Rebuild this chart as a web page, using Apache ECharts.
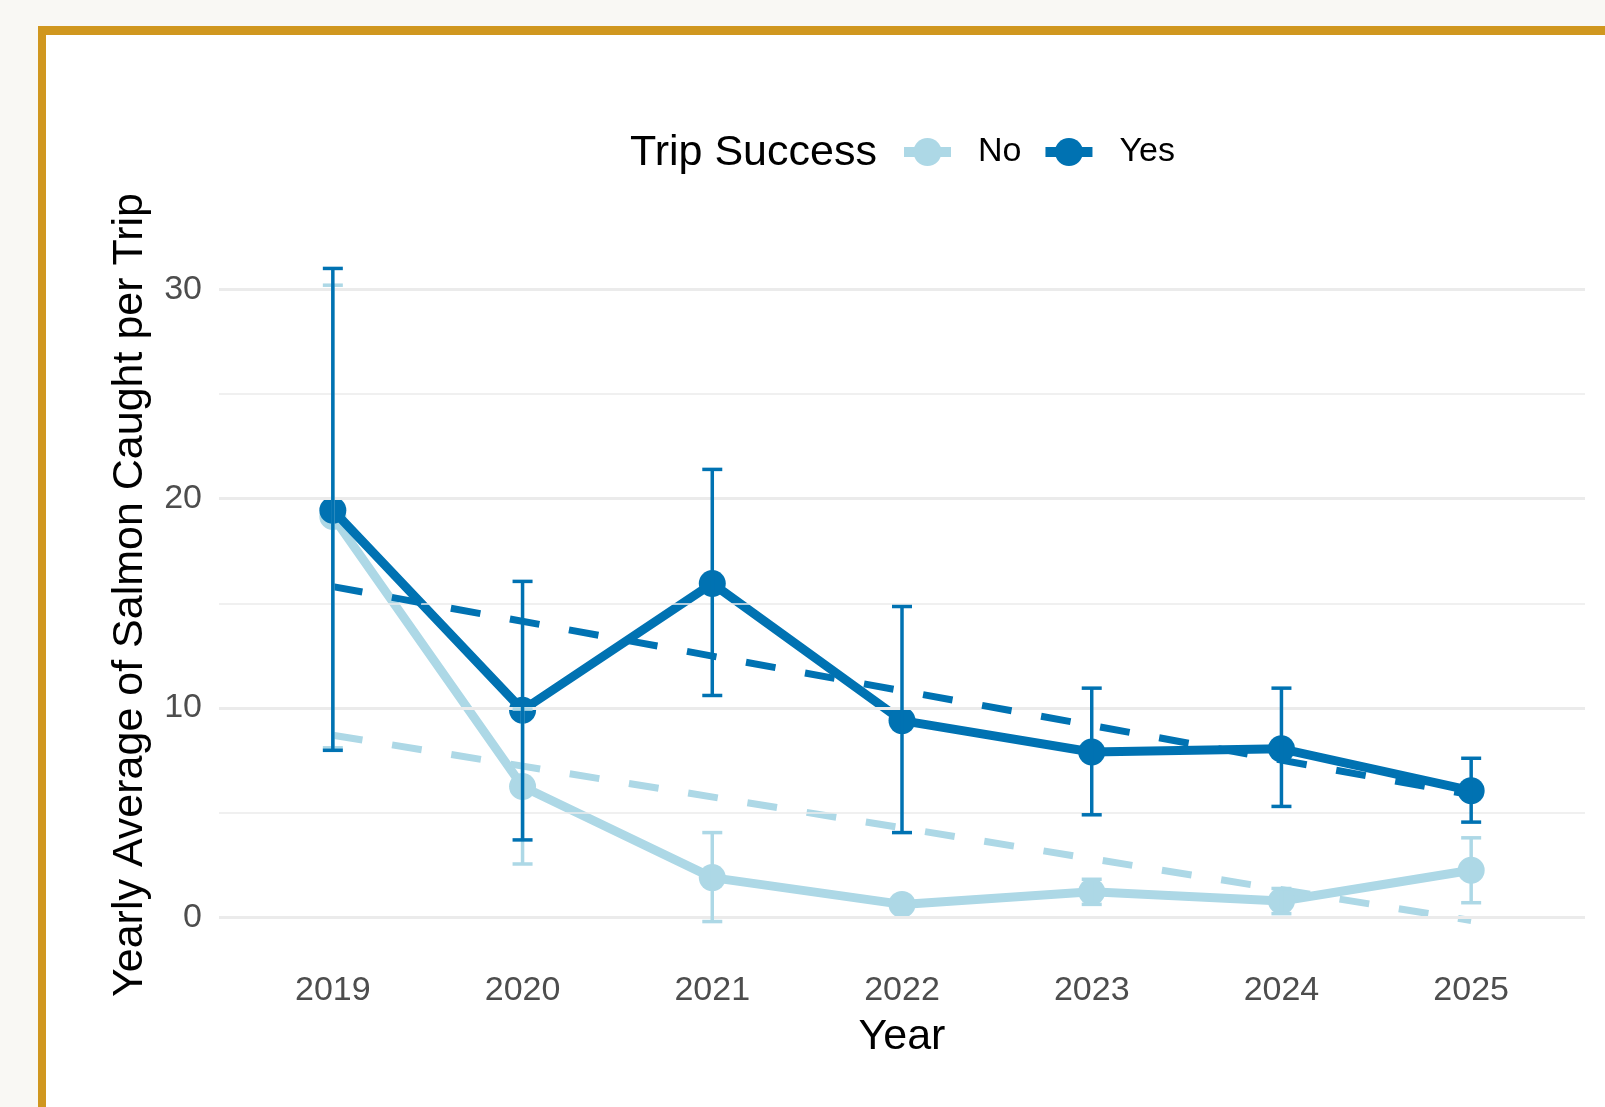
<!DOCTYPE html>
<html>
<head>
<meta charset="utf-8">
<title>Yearly Average of Salmon Caught per Trip</title>
<script src="https://cdn.jsdelivr.net/npm/echarts@6/dist/echarts.min.js"></script>
<style>
  html, body { margin: 0; padding: 0; width: 1605px; height: 1107px; overflow: hidden; background: #f9f8f4; }
  #frame { position: absolute; left: 38px; top: 26px; width: 1620px; height: 1120px;
           background: #ffffff; border-left: 8px solid #d0971f; border-top: 9px solid #d0971f; }
  #chart { position: absolute; left: 0; top: 0; width: 1605px; height: 1107px; }
</style>
</head>
<body>
<div id="frame"></div>
<div id="chart"></div>
<script>
// Survey years
const years = [2019, 2020, 2021, 2022, 2023, 2024, 2025];

// Successful trips: yearly mean and interval bounds
const yesMean = [19.45, 9.9, 15.95, 9.4, 7.9, 8.05, 6.05];
const yesLow  = [7.98, 3.7, 10.6, 4.05, 4.9, 5.3, 4.55];
const yesHigh = [31.0, 16.05, 21.4, 14.85, 10.95, 10.95, 7.6];

// Unsuccessful trips: yearly mean and interval bounds (none for 2022)
const noMean = [19.15, 6.25, 1.9, 0.62, 1.22, 0.78, 2.25];
const noLow  = [8.1, 2.55, -0.2, null, 0.62, 0.18, 0.7];
const noHigh = [30.2, 9.95, 4.05, null, 1.82, 1.38, 3.8];

// Linear trend endpoints (first and last year)
const yesTrend = [15.8, 5.85];
const noTrend  = [8.7, -0.15];

// Axis ticks
const yMajorTicks = [0, 10, 20, 30];
const yMinorTicks = [5, 15, 25];

const COLOR_YES = '#0072b2';
const COLOR_NO = '#add8e6';
const FONT = 'Liberation Sans, Arial, sans-serif';

function pairs(xs, ys) { return xs.map((x, i) => [x, ys[i]]); }
function errData(lo, hi) {
  const out = [];
  years.forEach((y, i) => { if (lo[i] !== null && hi[i] !== null) out.push([y, lo[i], hi[i]]); });
  return out;
}
function trendData(t) { return [[years[0], t[0]], [years[years.length - 1], t[1]]]; }

function errorBarRenderer(color) {
  return function (params, api) {
    const x = api.value(0);
    const top = api.coord([x, api.value(2)]);
    const bot = api.coord([x, api.value(1)]);
    const hw = 10;
    const st = { stroke: color, lineWidth: 3.5, lineCap: 'butt' };
    return {
      type: 'group',
      children: [
        { type: 'line', shape: { x1: top[0], y1: top[1], x2: bot[0], y2: bot[1] }, style: st },
        { type: 'line', shape: { x1: top[0] - hw, y1: top[1], x2: top[0] + hw, y2: top[1] }, style: st },
        { type: 'line', shape: { x1: bot[0] - hw, y1: bot[1], x2: bot[0] + hw, y2: bot[1] }, style: st }
      ]
    };
  };
}

const gridLines = yMajorTicks.map(v => ({ yAxis: v, lineStyle: { width: 3, color: '#ebebeb', type: 'solid' } }))
  .concat(yMinorTicks.map(v => ({ yAxis: v, lineStyle: { width: 1.5, color: '#ebebeb', type: 'solid' } })));

const chart = echarts.init(document.getElementById('chart'), null, { renderer: 'canvas' });
chart.setOption({
  backgroundColor: 'transparent',
  animation: false,
  textStyle: { fontFamily: FONT },
  title: {
    text: 'Trip Success',
    left: 630, top: 132, padding: 0,
    textStyle: { fontFamily: FONT, fontSize: 43, fontWeight: 'normal', color: '#000000', lineHeight: 43 }
  },
  legend: {
    data: ['No', 'Yes'],
    left: 899, top: 135, padding: 0,
    itemWidth: 47, itemHeight: 35, itemGap: 19,
    lineStyle: { width: 10 },
    textStyle: { fontFamily: FONT, fontSize: 34, color: '#000000', padding: [0, 0, 0, 22] }
  },
  grid: { left: 219, right: 20, top: 236, bottom: 153, containLabel: false },
  xAxis: {
    type: 'value', min: 2018.4, max: 2025.6,
    axisLine: { show: false }, axisTick: { show: false }, splitLine: { show: false },
    axisLabel: {
      customValues: years, formatter: v => String(v),
      fontFamily: FONT, fontSize: 34, color: '#4d4d4d', margin: 20
    },
    name: 'Year', nameLocation: 'middle', nameGap: 62,
    nameTextStyle: { fontFamily: FONT, fontSize: 43, color: '#000000' }
  },
  yAxis: {
    type: 'value', min: -1.75, max: 32.55,
    axisLine: { show: false }, axisTick: { show: false }, splitLine: { show: false },
    axisLabel: {
      customValues: yMajorTicks, formatter: v => String(v),
      fontFamily: FONT, fontSize: 34, color: '#4d4d4d', margin: 17, padding: [4, 0, 0, 0]
    },
    name: 'Yearly Average of Salmon Caught per Trip', nameLocation: 'middle', nameGap: 67, nameRotate: 90,
    nameTextStyle: { fontFamily: FONT, fontSize: 43, color: '#000000' }
  },
  series: [
    {
      name: 'gridlines', type: 'line', data: [], z: 0, silent: true,
      markLine: { silent: true, symbol: ['none', 'none'], label: { show: false }, animation: false, data: gridLines }
    },
    {
      name: 'No', type: 'line', data: pairs(years, noMean), z: 2,
      symbol: 'circle', symbolSize: 27, showSymbol: true,
      lineStyle: { color: COLOR_NO, width: 9 }, itemStyle: { color: COLOR_NO }
    },
    {
      name: 'Yes', type: 'line', data: pairs(years, yesMean), z: 3,
      symbol: 'circle', symbolSize: 27, showSymbol: true,
      lineStyle: { color: COLOR_YES, width: 9 }, itemStyle: { color: COLOR_YES }
    },
    {
      name: 'No trend', type: 'line', data: trendData(noTrend), z: 4, symbol: 'none',
      lineStyle: { color: COLOR_NO, width: 7, type: [30, 30], cap: 'butt' }
    },
    {
      name: 'Yes trend', type: 'line', data: trendData(yesTrend), z: 5, symbol: 'none',
      lineStyle: { color: COLOR_YES, width: 7, type: [30, 30], cap: 'butt' }
    },
    {
      name: 'No interval', type: 'custom', data: errData(noLow, noHigh), z: 6,
      encode: { x: 0, y: [1, 2] }, renderItem: errorBarRenderer(COLOR_NO)
    },
    {
      name: 'Yes interval', type: 'custom', data: errData(yesLow, yesHigh), z: 7,
      encode: { x: 0, y: [1, 2] }, renderItem: errorBarRenderer(COLOR_YES)
    }
  ]
});
</script>
</body>
</html>
